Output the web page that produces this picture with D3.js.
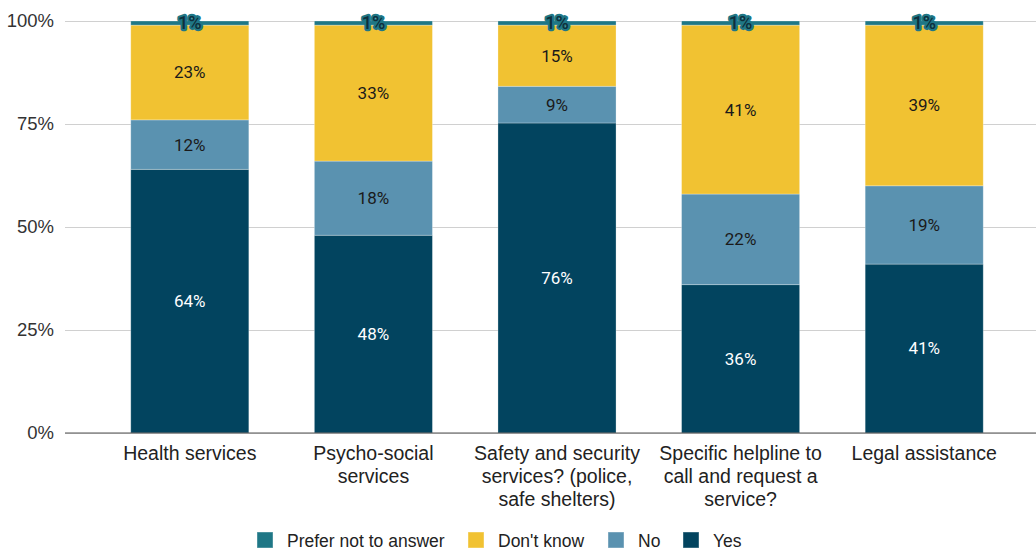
<!DOCTYPE html>
<html>
<head>
<meta charset="utf-8">
<script src="https://cdn.jsdelivr.net/npm/d3@7"></script>
<style>
  html, body { margin: 0; padding: 0; background: #fff; }
  svg { display: block; }
</style>
</head>
<body>
<svg id="chart" width="1036" height="550"></svg>
<script>
// Survey responses per service type (percent of respondents)
const categories = [
  "Health services",
  "Psycho-social services",
  "Safety and security services? (police, safe shelters)",
  "Specific helpline to call and request a service?",
  "Legal assistance"
];
const yesValues = [64, 48, 76, 36, 41];
const noValues = [12, 18, 9, 22, 19];
const dontKnowValues = [23, 33, 15, 41, 39];
const preferNotValues = [1, 1, 1, 1, 1];

const seriesNames = ["Yes", "No", "Don't know", "Prefer not to answer"];
const legendOrder = ["Prefer not to answer", "Don't know", "No", "Yes"];
const yTicks = [0, 0.25, 0.5, 0.75, 1];

const colors = {
  "Yes": "#02445f",
  "No": "#5a92b0",
  "Don't know": "#f1c232",
  "Prefer not to answer": "#1f7786"
};
const labelFill = {
  "Yes": "#ffffff",
  "No": "#1a1a1a",
  "Don't know": "#1a1a1a",
  "Prefer not to answer": "#0e2f3c"
};

const rows = categories.map((c, i) => ({
  category: c,
  "Yes": yesValues[i],
  "No": noValues[i],
  "Don't know": dontKnowValues[i],
  "Prefer not to answer": preferNotValues[i]
}));

const svg = d3.select("#chart");
const plot = { left: 65, right: 1036, top: 21, bottom: 433 };
const sansFont = "'Liberation Sans', Arial, sans-serif";

const x = d3.scaleBand()
  .domain(categories)
  .range([98, 1016])
  .paddingInner(0.357)
  .paddingOuter(0.1785);

const y = d3.scaleLinear().domain([0, 1]).range([plot.bottom, plot.top]);

// Gridlines and y-axis labels
const yAxis = d3.axisLeft(y)
  .tickValues(yTicks)
  .tickFormat(d3.format(".0%"))
  .tickSize(-(plot.right - plot.left))
  .tickPadding(10);

const yg = svg.append("g")
  .attr("transform", `translate(${plot.left},0)`)
  .call(yAxis);
yg.select(".domain").remove();
yg.selectAll(".tick line").attr("stroke", "#d0d0d0").attr("stroke-width", 1);
yg.selectAll(".tick text")
  .attr("fill", "#333")
  .style("font-family", sansFont)
  .style("font-size", "18.5px")
  .attr("x", -11);

// Stacked bars, normalised to 100%
const stack = d3.stack().keys(seriesNames).offset(d3.stackOffsetExpand);
const layers = stack(rows);

const layerG = svg.append("g")
  .selectAll("g")
  .data(layers)
  .join("g")
  .attr("fill", d => colors[d.key]);

layerG.selectAll("rect")
  .data(d => d.map(p => Object.assign(p, { key: d.key })))
  .join("rect")
  .attr("x", d => x(d.data.category))
  .attr("width", x.bandwidth())
  .attr("y", d => y(d[1]))
  .attr("height", d => y(d[0]) - y(d[1]))
  .attr("stroke", "rgba(255,255,255,0.35)")
  .attr("stroke-width", 0.8);

// Baseline
svg.append("line")
  .attr("x1", plot.left).attr("x2", plot.right)
  .attr("y1", plot.bottom).attr("y2", plot.bottom)
  .attr("stroke", "#555").attr("stroke-width", 1.2);

// Value labels inside segments
const labels = svg.append("g")
  .style("font-family", "Roboto, 'Noto Sans', sans-serif")
  .style("font-size", "17px");

layers.forEach(layer => {
  layer.forEach(p => {
    const v = p.data[layer.key];
    const cx = x(p.data.category) + x.bandwidth() / 2;
    const cy = (y(p[0]) + y(p[1])) / 2;
    const t = labels.append("text")
      .attr("x", cx)
      .attr("y", cy)
      .attr("text-anchor", "middle")
      .attr("dy", "0.35em")
      .attr("fill", labelFill[layer.key])
      .text(v + "%");
    if (layer.key === "Prefer not to answer") {
      t.attr("stroke", colors[layer.key])
        .attr("stroke-width", 4.5)
        .attr("stroke-linejoin", "round")
        .attr("paint-order", "stroke")
        .attr("font-weight", 500)
        .style("font-size", "18px");
    }
  });
});

// Category labels, wrapped to the column width
const xLabels = svg.append("g")
  .style("font-family", sansFont)
  .style("font-size", "19.5px")
  .attr("fill", "#222");

function wrapWords(text, maxWidth, measure) {
  const words = text.split(/\s+/);
  const lines = [];
  let line = [];
  words.forEach(w => {
    const trial = line.concat(w).join(" ");
    if (line.length && measure(trial) > maxWidth) {
      lines.push(line.join(" "));
      line = [w];
    } else {
      line.push(w);
    }
  });
  if (line.length) lines.push(line.join(" "));
  return lines;
}

categories.forEach(c => {
  const t = xLabels.append("text")
    .attr("x", x(c) + x.bandwidth() / 2)
    .attr("y", 460)
    .attr("text-anchor", "middle");
  const probe = t.append("tspan");
  const measure = s => { probe.text(s); return probe.node().getComputedTextLength(); };
  const lines = wrapWords(c, 176, measure);
  probe.remove();
  lines.forEach((ln, i) => {
    t.append("tspan")
      .attr("x", x(c) + x.bandwidth() / 2)
      .attr("dy", i === 0 ? 0 : 23)
      .text(ln);
  });
});

// Legend
const legendX = [257, 468, 608, 683];
const legend = svg.append("g")
  .style("font-family", sansFont)
  .style("font-size", "17.5px");

legendOrder.forEach((k, i) => {
  const g = legend.append("g").attr("transform", `translate(${legendX[i]},532)`);
  g.append("rect")
    .attr("width", 16).attr("height", 16)
    .attr("fill", colors[k])
    .attr("stroke", "rgba(255,255,255,0.4)");
  g.append("text")
    .attr("x", 30).attr("y", 15)
    .attr("fill", "#222")
    .text(k);
});
</script>
</body>
</html>
